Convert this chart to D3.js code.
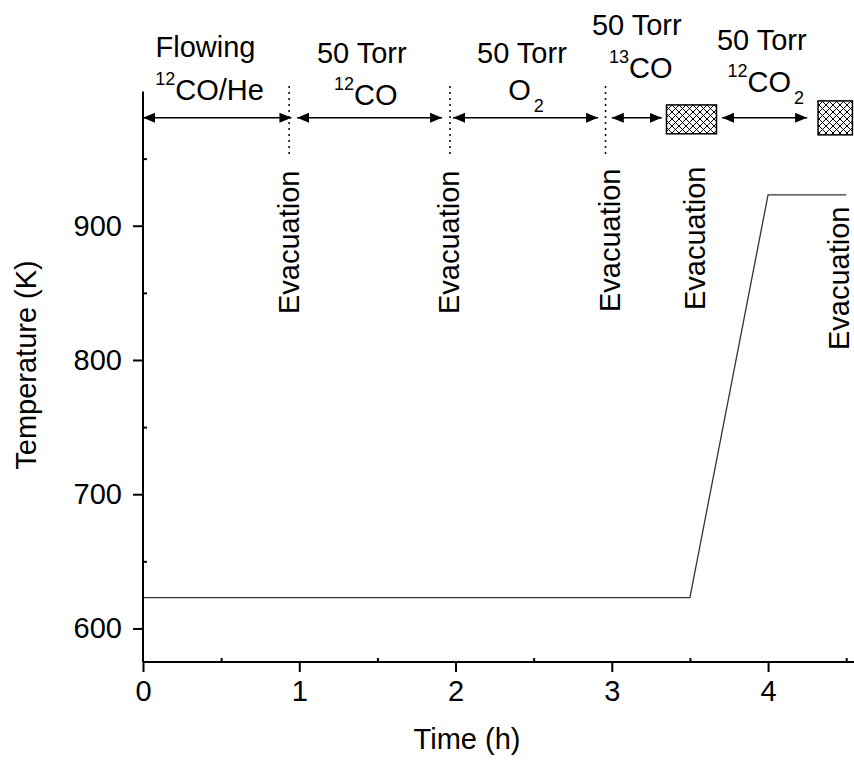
<!DOCTYPE html>
<html>
<head>
<meta charset="utf-8">
<script src="https://cdn.jsdelivr.net/npm/d3@7/dist/d3.min.js"></script>
<style>
  html, body { margin: 0; padding: 0; background: #fff; }
  svg { display: block; font-family: "Liberation Sans", Arial, Helvetica, sans-serif; }
</style>
</head>
<body>
<svg id="chart" width="854" height="761"></svg>
<script>
// Temperature programme of the sample (time in h, temperature in K)
const timeH = [0, 3.5, 4.0, 4.5];
const tempK = [623, 623, 923, 923];

// Axis ticks
const xTicks = [0, 1, 2, 3, 4];
const xMinorTicks = [0.5, 1.5, 2.5, 3.5, 4.5];
const yTicks = [600, 700, 800, 900];
const yMinorTicks = [650, 750, 850, 950];

// Gas-exposure steps: arrow spans in hours
const stepStart = [0, 0.986, 1.984, 3.0, 3.706];
const stepEnd = [0.95, 1.914, 2.912, 3.32, 4.25];
const stepLine1 = ["Flowing", "50 Torr", "50 Torr", "50 Torr", "50 Torr"];
const stepIso = ["12", "12", "", "13", "12"];
const stepGas = ["CO/He", "CO", "O", "CO", "CO"];
const stepSub = ["", "", "2", "", "2"];
const stepLabelX = [0.40, 1.40, 2.425, 3.16, 3.96];

// Evacuation markers (h)
const evacLineX = [0.935, 1.965, 2.96];
const evacLabelX = [0.998, 2.022, 3.054, 3.596, 4.518];
// Heated intervals shown as hatched boxes (h, K)
const boxX0 = [3.35, 4.32];
const boxX1 = [3.67, 4.54];
const boxY0 = [968.5, 967.7];
const boxY1 = [990, 993];

const svg = d3.select("#chart");
const mLeft = 143, mRight = 854, mTop = 91.5, mBottom = 662;

const x = d3.scaleLinear().domain([0, 4.55]).range([mLeft, mRight]);
const y = d3.scaleLinear().domain([575, 1000]).range([mBottom, mTop]);

const FS = 29;

// defs: arrow heads and hatch pattern
const defs = svg.append("defs");
defs.append("marker")
  .attr("id", "arrow")
  .attr("markerUnits", "userSpaceOnUse")
  .attr("viewBox", "0 -6 12 12")
  .attr("refX", 12).attr("refY", 0)
  .attr("markerWidth", 12).attr("markerHeight", 12)
  .attr("orient", "auto-start-reverse")
  .append("path").attr("d", "M0,-5L12,0L0,5Z").attr("fill", "#000");

const pat = defs.append("pattern")
  .attr("id", "hatch")
  .attr("patternUnits", "userSpaceOnUse")
  .attr("width", 7).attr("height", 7);
pat.append("rect").attr("width", 7).attr("height", 7).attr("fill", "#fff");
pat.append("path").attr("d", "M0,0L7,7M7,0L0,7M-1,6L1,8M6,-1L8,1M-1,1L1,-1M6,8L8,6")
  .attr("stroke", "#000").attr("stroke-width", 1);

// temperature line
const pts = timeH.map((t, i) => [t, tempK[i]]);
svg.append("path")
  .datum(pts)
  .attr("d", d3.line().x(d => x(d[0])).y(d => y(d[1])))
  .attr("fill", "none")
  .attr("stroke", "#333")
  .attr("stroke-width", 1.3);

// axes
const gx = svg.append("g").attr("transform", `translate(0,${mBottom})`)
  .call(d3.axisBottom(x).tickValues(xTicks).tickFormat(d3.format("d")).tickSize(10).tickPadding(8));
const gxm = svg.append("g").attr("transform", `translate(0,${mBottom})`)
  .call(d3.axisBottom(x).tickValues(xMinorTicks).tickFormat("").tickSize(-4));
const gy = svg.append("g").attr("transform", `translate(${mLeft},0)`)
  .call(d3.axisLeft(y).tickValues(yTicks).tickFormat(d3.format("d")).tickSize(10).tickPadding(11));
const gym = svg.append("g").attr("transform", `translate(${mLeft},0)`)
  .call(d3.axisLeft(y).tickValues(yMinorTicks).tickFormat("").tickSize(-4));

[gx, gxm, gy, gym].forEach(g => {
  g.select(".domain").attr("stroke", "#000").attr("stroke-width", 2);
  g.selectAll(".tick line").attr("stroke", "#000").attr("stroke-width", 2);
  g.selectAll(".tick text").attr("fill", "#000").attr("font-size", FS)
    .attr("font-family", "Liberation Sans, Arial, sans-serif");
});
gx.select(".domain").attr("d", `M${mLeft},0H${mRight}`);
gxm.select(".domain").remove();
gy.select(".domain").attr("d", `M0,${mBottom}V${mTop}`);
gym.select(".domain").remove();

// axis titles
svg.append("text")
  .attr("x", 467).attr("y", 749)
  .attr("text-anchor", "middle")
  .attr("font-size", FS)
  .text("Time (h)");
svg.append("text")
  .attr("transform", "translate(36,365) rotate(-90)")
  .attr("text-anchor", "middle")
  .attr("font-size", FS)
  .text("Temperature (K)");

// evacuation dotted markers
svg.selectAll(".evac-line").data(evacLineX).enter().append("line")
  .attr("x1", d => x(d)).attr("x2", d => x(d))
  .attr("y1", 86).attr("y2", 157)
  .attr("stroke", "#000").attr("stroke-width", 1.5)
  .attr("stroke-dasharray", "2,4");

// step arrows
const arrowY = y(980.4);
svg.selectAll(".step-arrow").data(stepStart).enter().append("line")
  .attr("x1", d => x(d)).attr("x2", (d, i) => x(stepEnd[i]))
  .attr("y1", arrowY).attr("y2", arrowY)
  .attr("stroke", "#000").attr("stroke-width", 1.5)
  .attr("marker-start", "url(#arrow)")
  .attr("marker-end", "url(#arrow)");

// hatched boxes
svg.selectAll(".hbox").data(boxX0).enter().append("rect")
  .attr("x", d => x(d))
  .attr("width", (d, i) => x(boxX1[i]) - x(d))
  .attr("y", (d, i) => y(boxY1[i]))
  .attr("height", (d, i) => y(boxY0[i]) - y(boxY1[i]))
  .attr("fill", "url(#hatch)")
  .attr("stroke", "#000").attr("stroke-width", 1.5);

// step labels (two rows)
const row1Base = [57, 63, 63, 35, 50];
const row2Base = [100, 105, 100, 78, 92];
stepLine1.forEach((s, i) => {
  svg.append("text")
    .attr("x", x(stepLabelX[i])).attr("y", row1Base[i])
    .attr("text-anchor", "middle")
    .attr("font-size", FS)
    .text(s);
  const t = svg.append("text")
    .attr("x", x(stepLabelX[i]) + 4).attr("y", row2Base[i])
    .attr("text-anchor", "middle")
    .attr("font-size", FS);
  if (stepIso[i]) {
    t.append("tspan").attr("font-size", 18).attr("dy", -15).text(stepIso[i]);
    t.append("tspan").attr("dy", 15).text(stepGas[i]);
  } else {
    t.append("tspan").text(stepGas[i]);
  }
  if (stepSub[i]) {
    t.append("tspan").attr("font-size", 18).attr("dx", 3).attr("dy", 12).text(stepSub[i]);
  }
});

// evacuation labels (vertical)
const evacStartY = [314, 314, 312, 310, 350];
evacLabelX.forEach((d, i) => {
  svg.append("text")
    .attr("transform", `translate(${x(d)},${evacStartY[i]}) rotate(-90)`)
    .attr("text-anchor", "start")
    .attr("font-size", FS)
    .text("Evacuation");
});
</script>
</body>
</html>
